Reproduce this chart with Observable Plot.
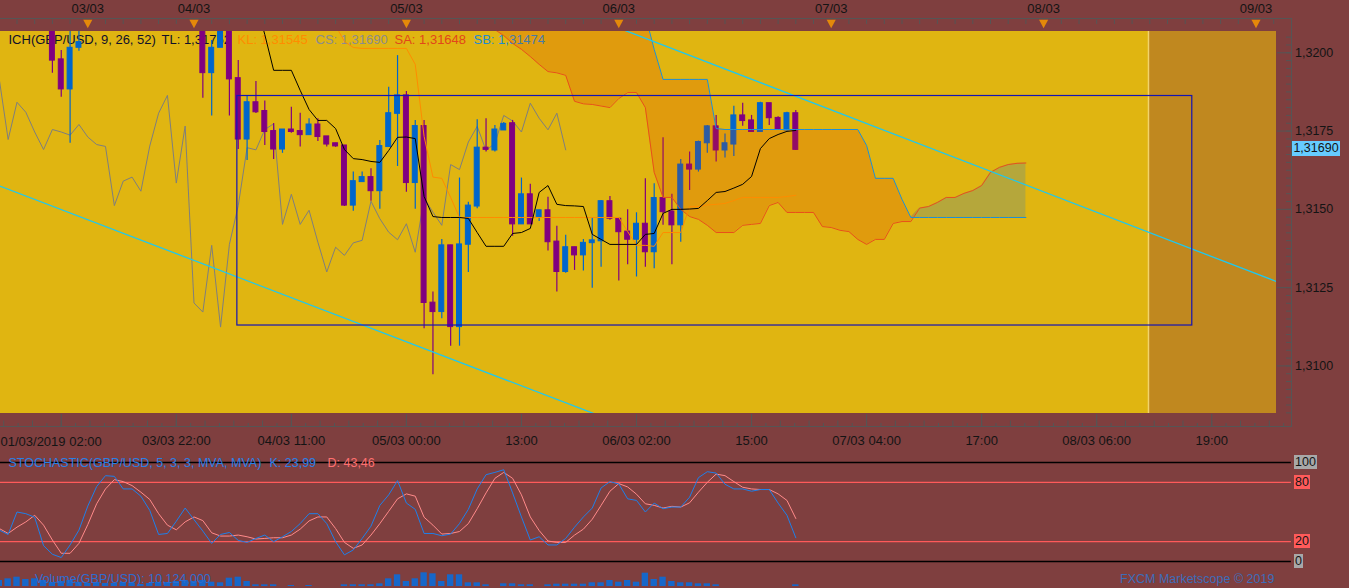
<!DOCTYPE html>
<html><head><meta charset="utf-8">
<script src="https://cdn.jsdelivr.net/npm/d3@7"></script>
<script src="https://cdn.jsdelivr.net/npm/@observablehq/plot@0.6"></script>
<style>
html,body{margin:0;padding:0;background:#7f3f3f;overflow:hidden;}
#wrap{position:relative;width:1349px;height:588px;background:#7f3f3f;font-family:"Liberation Sans",Arial,sans-serif;overflow:hidden;}
.ov{position:absolute;white-space:nowrap;}
</style></head><body><div id="wrap"></div>
<script>
// ---------- DATA (bar index n: 0 = 06/03 02:00, hourly bars) ----------
const candleN = [-66,-65,-64,-63,-49,-48,-47,-46,-45,-44,-43,-42,-41,-40,-39,-38,-37,-36,-35,-34,-33,-32,-31,-30,-29,-28,-27,-26,-25,-24,-23,-22,-21,-20,-19,-18,-17,-16,-15,-14,-13,-12,-11,-10,-9,-8,-7,-6,-5,-4,-3,-2,-1,0,1,2,3,4,5,6,7,8,9,10,11,12,13,14,15,16,17,18];
const openP = [1.32087,1.31979,1.31883,1.32016,1.32087,1.31935,1.32016,1.32078,1.31919,1.31723,1.31842,1.31814,1.31750,1.31691,1.31755,1.31750,1.31737,1.31771,1.31733,1.31711,1.31704,1.31512,1.31587,1.31603,1.31558,1.31699,1.31805,1.31864,1.31584,1.31766,1.31202,1.31172,1.31385,1.31124,1.31387,1.31509,1.31697,1.31688,1.31752,1.31775,1.31452,1.31548,1.31475,1.31497,1.31397,1.31300,1.31379,1.31353,1.31392,1.31398,1.31526,1.31470,1.31429,1.31403,1.31454,1.31363,1.31536,1.31493,1.31449,1.31643,1.31627,1.31711,1.31765,1.31688,1.31707,1.31800,1.31784,1.31747,1.31839,1.31792,1.31752,1.31807];
const highP = [1.32103,1.32007,1.32078,1.32071,1.32103,1.32039,1.32103,1.32103,1.31975,1.31861,1.31908,1.31846,1.31774,1.31755,1.31826,1.31807,1.31789,1.31789,1.31733,1.31711,1.31704,1.31619,1.31619,1.31630,1.31720,1.31890,1.31991,1.31876,1.31784,1.31784,1.31236,1.31404,1.31385,1.31600,1.31523,1.31786,1.31789,1.31768,1.31777,1.31784,1.31600,1.31580,1.31497,1.31539,1.31446,1.31417,1.31379,1.31404,1.31472,1.31528,1.31541,1.31470,1.31499,1.31489,1.31598,1.31582,1.31729,1.31548,1.31659,1.31683,1.31718,1.31768,1.31800,1.31741,1.31829,1.31839,1.31800,1.31842,1.31839,1.31796,1.31810,1.31816];
const lowP = [1.31935,1.31858,1.31711,1.32005,1.31855,1.31798,1.32016,1.31798,1.31691,1.31656,1.31806,1.31704,1.31659,1.31679,1.31743,1.31699,1.31737,1.31717,1.31699,1.31698,1.31509,1.31494,1.31587,1.31526,1.31500,1.31699,1.31637,1.31555,1.31500,1.31119,1.30972,1.31151,1.31063,1.31063,1.31298,1.31502,1.31683,1.31683,1.31752,1.31414,1.31452,1.31452,1.31461,1.31367,1.31236,1.31296,1.31305,1.31303,1.31248,1.31315,1.31465,1.31271,1.31323,1.31284,1.31315,1.31310,1.31449,1.31323,1.31395,1.31560,1.31619,1.31679,1.31651,1.31664,1.31669,1.31765,1.31747,1.31747,1.31768,1.31754,1.31750,1.31688];
const closeP = [1.31975,1.31883,1.32016,1.32034,1.31935,1.32016,1.32078,1.31915,1.31723,1.31842,1.31810,1.31747,1.31691,1.31755,1.31747,1.31737,1.31771,1.31731,1.31707,1.31701,1.31512,1.31590,1.31603,1.31558,1.31702,1.31807,1.31864,1.31584,1.31766,1.31201,1.31172,1.31385,1.31124,1.31388,1.31512,1.31697,1.31690,1.31755,1.31773,1.31452,1.31548,1.31452,1.31497,1.31395,1.31300,1.31379,1.31353,1.31393,1.31401,1.31526,1.31470,1.31427,1.31403,1.31454,1.31363,1.31536,1.31491,1.31449,1.31643,1.31627,1.31715,1.31765,1.31688,1.31711,1.31800,1.31782,1.31747,1.31839,1.31791,1.31754,1.31807,1.31690];

const tenkanStart = -43;
const tenkan = [1.32165,1.32058,1.31944,1.31944,1.31944,1.31880,1.31819,1.31784,1.31784,1.31758,1.31691,1.31662,1.31659,1.31653,1.31650,1.31688,1.31730,1.31731,1.31726,1.31541,1.31477,1.31474,1.31474,1.31474,1.31471,1.31426,1.31382,1.31382,1.31382,1.31423,1.31426,1.31439,1.31554,1.31576,1.31516,1.31512,1.31511,1.31509,1.31420,1.31404,1.31388,1.31388,1.31388,1.31388,1.31420,1.31423,1.31487,1.31500,1.31500,1.31501,1.31503,1.31528,1.31554,1.31557,1.31568,1.31580,1.31605,1.31694,1.31726,1.31739,1.31749,1.31752];
const kijunStart = -35;
const kijun = [1.32135,1.32087,1.32036,1.32017,1.32014,1.32014,1.32014,1.32014,1.32014,1.32014,1.31963,1.31733,1.31603,1.31599,1.31538,1.31474,1.31474,1.31474,1.31474,1.31474,1.31474,1.31474,1.31474,1.31474,1.31474,1.31474,1.31474,1.31474,1.31474,1.31474,1.31474,1.31474,1.31474,1.31474,1.31429,1.31385,1.31385,1.31382,1.31426,1.31426,1.31426,1.31509,1.31509,1.31514,1.31516,1.31519,1.31528,1.31538,1.31538,1.31538,1.31538,1.31538,1.31541,1.31545];
const senkouStart = -17;
const senkouA = [1.32103,1.32074,1.32055,1.32030,1.32011,1.31988,1.31963,1.31940,1.31936,1.31928,1.31845,1.31837,1.31835,1.31830,1.31825,1.31854,1.31873,1.31873,1.31825,1.31618,1.31538,1.31538,1.31500,1.31477,1.31468,1.31449,1.31426,1.31426,1.31426,1.31449,1.31452,1.31455,1.31512,1.31522,1.31490,1.31490,1.31490,1.31490,1.31445,1.31442,1.31433,1.31429,1.31404,1.31388,1.31404,1.31404,1.31455,1.31461,1.31461,1.31504,1.31509,1.31522,1.31538,1.31538,1.31551,1.31560,1.31576,1.31618,1.31634,1.31643,1.31647,1.31648];
const senkouB = [1.32135,1.32135,1.32135,1.32135,1.32135,1.32135,1.32135,1.32135,1.32135,1.32135,1.32135,1.32135,1.32135,1.32135,1.32135,1.32135,1.32135,1.32135,1.32119,1.32011,1.31915,1.31915,1.31915,1.31915,1.31915,1.31915,1.31758,1.31755,1.31755,1.31755,1.31755,1.31755,1.31755,1.31755,1.31755,1.31755,1.31755,1.31755,1.31755,1.31755,1.31755,1.31755,1.31755,1.31704,1.31599,1.31599,1.31599,1.31532,1.31474,1.31474,1.31474,1.31474,1.31474,1.31474,1.31474,1.31474,1.31474,1.31474,1.31474,1.31474,1.31474,1.31474];
const chikouShift = 26;

const stochStart = -72;
const stochK = [31.7,27.3,50,48.3,44.7,16,7.3,4,16.7,31.7,56,75.7,86.7,86,73.3,73.3,66,51.7,27.3,28.3,40.7,54,42.3,30.7,18.3,27.3,29.3,21.3,19.3,23.3,26.7,20,25,30.3,38.3,48.3,48.3,38.3,20,6.7,11.7,23.3,35.7,56.7,67.3,81.7,59,52.7,28.3,28.3,26,27.7,38.3,52.7,73.3,87.7,90,92.7,69.3,45,21.7,25,16.7,16.7,23.3,34.7,45,54,74.3,80.7,78.3,63.3,61.7,50,59,53.3,55,55,65,84.7,90.7,89.3,78,73.3,73.3,71,72.7,72.7,59,46.7,23.99];
const stochD = [33.3,28.3,34.7,40,46.7,36.7,21.7,8.3,8.3,18.3,37.3,58.3,73.3,82.7,80.7,76.7,70,62.7,48.3,36.7,32,40,45,41.3,29,25.7,25.7,26.7,25,22.7,23.3,24,24,26.7,32.7,41,45,45,33.3,19.3,13.3,16.7,26.7,38.3,50.7,63.3,68.3,66,44.7,36.7,27.7,28.3,30.3,38.3,53.3,69.3,84,90,84,67.3,45,31.3,20.7,19.3,19.3,26.7,32.7,42.7,56.7,71,78.7,75.3,68,58.3,56.7,54,55.7,55,59.3,70,80,88.3,86.7,80.7,75,73.3,72.7,72.7,68.3,61.7,43.46];
const volumeM = [6,7.7,9.3,7,7.7,6,4,5,6,4,3,4,3,3,4,3,2,3,4,4,5,6,5,6,4.3,3.7,8.3,9.3,5,1.7,1.7,1.7,0,1,0,1,0,0,0,1.7,1.7,1.7,1.7,2.7,7.7,11.7,5,7.7,13.7,12.7,5,11.7,11.7,3.7,3.7,1.7,0,2.7,2.7,1.7,1.7,0,1.7,2.3,2.3,2.3,2.3,3.7,3.7,6,4.3,6,4.3,13.3,7,9.3,5,3.7,3.7,2.7,2.7,1.7,0,0,0,0,0,0,0,0,1.7];

const timeTickN = [-65,-52,-39,-26,-13,0,13,26,39,52,65];
const timeTickLabels = ["01/03/2019 02:00","03/03 22:00","04/03 11:00","05/03 00:00","13:00","06/03 02:00","15:00","07/03 04:00","17:00","08/03 06:00","19:00"];
const dayMarkN = [-62,-50,-26,-2,22,46,70];
const dayMarkLabels = ["03/03","04/03","05/03","06/03","07/03","08/03","09/03"];
const priceTicks = [1.3100,1.3125,1.3150,1.3175,1.3200];
const stochLevels = [0,20,80,100];

const trendStartN = [-72,-2], trendStartP = [1.31575,1.32079];
const trendEndN = [-4,73], trendEndP = [1.30839,1.31262];
const boxN = [-45.1,62.8], boxP = [1.31129,1.31862];
const shadeN = [57.85,72.4];

// ---------- derived tables ----------
const candles = candleN.map((n,i)=>({n, open:openP[i], high:highP[i], low:lowP[i], close:closeP[i]}));
const candleColor = d => d.close >= d.open ? "#0066cc" : "#800080";
const chikou = candles.filter(d => d.n >= -49).map(d => ({n: d.n - chikouShift, v: d.close}));
const series = (arr, start) => arr.map((v,i)=>({n:start+i, v}));
const tenkanS = series(tenkan, tenkanStart);
const kijunS = series(kijun, kijunStart);
const cloud = senkouA.map((a,i)=>({n: senkouStart+i, sa:a, sb:senkouB[i]}));
const kS = series(stochK, stochStart), dS = series(stochD, stochStart), volS = series(volumeM, stochStart);
const trends = trendStartN.map((n,i)=>({n1:n, p1:trendStartP[i], n2:trendEndN[i], p2:trendEndP[i]}));
const box = {x1:boxN[0], x2:boxN[1], y1:boxP[0], y2:boxP[1]};
const shade = {start: shadeN[0], end: shadeN[1]};
const timeLabel = new Map(timeTickN.map((n,i)=>[n, timeTickLabels[i]]));
const dayMarks = dayMarkN.map((n,i)=>({n, label: dayMarkLabels[i]}));
const last = a => a[a.length-1];

const f5 = v => v.toFixed(5).replace(".", ",");
const f4 = v => v.toFixed(4).replace(".", ",");
const f2 = v => v.toFixed(2).replace(".", ",");

const xDomain = [-71.864, 72.316];
const axisEdgeN = 74.0;
const FONT = '"Liberation Sans", Arial, sans-serif';
const topTicks = d3.range(-72, 73, 2);
const minorBottomA = d3.range(-78, 73, 13/4).map(v => v + 13/8);
const minorBottomB = d3.range(-78, 73, 13/4);
const minorPrice = d3.range(0, 49).map(i => 1.3085 + i*0.00025);

const downTri = {draw(ctx, size){const r=Math.sqrt(size/Math.PI);ctx.moveTo(-1.3*r,-1.2*r);ctx.lineTo(1.3*r,-1.2*r);ctx.lineTo(0,1.2*r);ctx.closePath();}};

function seg(text, dx, dy, fill, fs){
  return Plot.text([text], {text:d=>d, frameAnchor:"top-left", textAnchor:"start", lineAnchor:"middle", dx, dy, fill, fontSize:fs});
}

const main = Plot.plot({
  width:1349, height:455, marginLeft:0, marginRight:73, marginTop:31, marginBottom:42,
  x:{type:"linear", domain:xDomain, label:null},
  y:{type:"linear", domain:[1.30848,1.32068], label:null},
  style:{background:"transparent", fontFamily:FONT, fontSize:"13px", color:"#141414", overflow:"visible"},
  marks:[
    Plot.rect([0], {fill:"#e0b511"}),
    Plot.rect([shade], {x1:"start", x2:"end", fill:"#c0881f", clip:true}),
    Plot.ruleX([shade.start], {stroke:"#f2d36b", strokeWidth:1.5}),
    seg("ICH(GBP/USD, 9, 26, 52)", 8, 8, "#10102a", 13),
    seg("TL: " + f5(last(tenkan)), 161, 8, "#10102a", 13),
    seg("KL: " + f5(last(kijun)), 237, 8, "#ff8c00", 13),
    seg("CS: " + f5(last(closeP)), 315, 8, "#8c8c8c", 13),
    seg("SA: " + f5(last(senkouA)), 394, 8, "#e2461a", 13),
    seg("SB: " + f5(last(senkouB)), 473, 8, "#1e8cd2", 13),
    Plot.line(chikou, {x:"n", y:"v", stroke:"#7e7e7e", strokeWidth:1, clip:true}),
    Plot.ruleX(candles, {x:"n", y1:"low", y2:"high", stroke:candleColor, strokeWidth:1.2, clip:true}),
    Plot.rect(candles, {x1:d=>d.n-0.28, x2:d=>d.n+0.28, y1:"open", y2:"close", fill:candleColor, stroke:candleColor, strokeWidth:1, clip:true}),
    Plot.areaY(cloud, {x:"n", y1:"sa", y2:d=>Math.max(d.sa,d.sb), fill:"rgb(224,56,0)", fillOpacity:0.2, clip:true}),
    Plot.areaY(cloud, {x:"n", y1:"sb", y2:d=>Math.max(d.sa,d.sb), fill:"rgb(128,150,110)", fillOpacity:0.45, clip:true}),
    Plot.line(cloud, {x:"n", y:"sa", stroke:"#e8501a", strokeWidth:1, clip:true}),
    Plot.line(cloud, {x:"n", y:"sb", stroke:"#1e8fd6", strokeWidth:1, clip:true}),
    Plot.line(kijunS, {x:"n", y:"v", stroke:"#ff8c00", strokeWidth:1, clip:true}),
    Plot.line(tenkanS, {x:"n", y:"v", stroke:"#000000", strokeWidth:1, clip:true}),
    Plot.link(trends, {x1:"n1", y1:"p1", x2:"n2", y2:"p2", stroke:"#1ec8f0", strokeWidth:1.3, clip:true}),
    Plot.rect([box], {x1:"x1", x2:"x2", y1:"y1", y2:"y2", fill:"none", stroke:"#1414b4", strokeWidth:1.2}),
    Plot.axisX({anchor:"top", ticks:topTicks, tickSize:4.5, dy:-8, tickFormat:()=>"", stroke:"#555", label:null}),
    Plot.text(dayMarks, {x:"n", text:"label", frameAnchor:"top", dy:-22.5, lineAnchor:"middle", fill:"#141414", fontSize:13}),
    Plot.dot(dayMarks, {x:"n", frameAnchor:"top", dy:-7.5, r:3.5, symbol:downTri, fill:"#e4890a", stroke:"none"}),
    Plot.axisX({anchor:"bottom", ticks:timeTickN, tickFormat:n=>(n===timeTickN[0] ? "" : timeLabel.get(n)), tickSize:12.5, dy:1, tickPadding:9, stroke:"#555", fill:"#141414", fontSize:13, label:null}),
    Plot.text([timeTickLabels[0]], {text:d=>d, frameAnchor:"bottom-left", textAnchor:"start", lineAnchor:"middle", dx:0, dy:28, fill:"#141414", fontSize:13}),
    Plot.axisX({anchor:"bottom", ticks:minorBottomA, tickSize:3.5, dy:10, tickFormat:()=>"", stroke:"#555", label:null}),
    Plot.axisX({anchor:"bottom", ticks:minorBottomB, tickSize:6, dy:7.5, tickFormat:()=>"", stroke:"#555", label:null}),
    Plot.axisY({anchor:"right", ticks:priceTicks, tickSize:15, tickPadding:3.5, tickFormat:f4, stroke:"#555", fill:"#141414", fontSize:12.5, label:null}),
    Plot.axisY({anchor:"right", ticks:minorPrice, tickSize:6, dx:9, tickFormat:()=>"", stroke:"#555", label:null})
  ]
});

const stoch = Plot.plot({
  width:1349, height:112, marginLeft:0, marginRight:73, marginTop:10, marginBottom:3,
  x:{type:"linear", domain:xDomain, axis:null, label:null},
  y:{domain:[0,100], axis:null, label:null},
  style:{background:"transparent", fontFamily:FONT, fontSize:"12.5px", overflow:"visible"},
  marks:[
    Plot.ruleY([0,100], {x1:xDomain[0], x2:axisEdgeN, stroke:"#000", strokeWidth:1.4}),
    Plot.ruleY([20,80], {x1:xDomain[0], x2:axisEdgeN, stroke:"#ff5a5a", strokeWidth:1.3}),
    Plot.line(dS, {x:"n", y:"v", stroke:"#ff8a8a", strokeWidth:1, clip:true}),
    Plot.line(kS, {x:"n", y:"v", stroke:"#1e80ea", strokeWidth:1, clip:true}),
    seg("STOCHASTIC(GBP/USD, 5, 3, 3, MVA, MVA)", 8, 0, "#2a7fe6", 12.5),
    seg("K: " + f2(last(stochK)), 269, 0, "#2a7fe6", 12.5),
    seg("D: " + f2(last(stochD)), 327, 0, "#ff7070", 12.5)
  ]
});

const vol = Plot.plot({
  width:1349, height:26, marginLeft:0, marginRight:73, marginTop:0, marginBottom:2,
  x:{type:"linear", domain:xDomain, axis:null, label:null},
  y:{domain:[0,24], axis:null, label:null},
  style:{background:"transparent", overflow:"visible"},
  marks:[
    Plot.rect(volS, {x1:d=>d.n-0.36, x2:d=>d.n+0.36, y1:0, y2:"v", fill:"#1767c9", clip:true})
  ]
});

const wrap = document.getElementById("wrap");
function place(node, top){ node.style.position="absolute"; node.style.left="0px"; node.style.top=top+"px"; wrap.appendChild(node); }
place(main, 0); place(stoch, 452); place(vol, 562);

function ov(text, css){ const d=document.createElement("div"); d.className="ov"; d.textContent=text; Object.assign(d.style, css); wrap.appendChild(d); return d; }
// chart chrome: axis frame lines
ov("", {left:"0px", top:"18px", width:"1292px", height:"1px", background:"#555"});
ov("", {left:"1291px", top:"18px", width:"1px", height:"409px", background:"#555"});
ov("", {left:"0px", top:"426px", width:"1292px", height:"1px", background:"#555"});

const yMain = main.scale("y");
const py = yMain.apply(last(closeP));
ov(f5(last(closeP)), {left:"1292px", top:(py-8)+"px", width:"48px", height:"15px", lineHeight:"15px", background:"#66ccff", color:"#141414", fontSize:"12.5px", textAlign:"center"});

const yS = stoch.scale("y");
const levelBg = {0:"#a8a8a8", 20:"#ff5a5a", 80:"#ff5a5a", 100:"#a8a8a8"};
stochLevels.forEach(v => {
  const yy = 452 + yS.apply(v);
  ov(String(v), {left:"1294px", top:(yy-7)+"px", height:"14px", lineHeight:"14px", padding:"0 1px", background:levelBg[v], color:"#141414", fontSize:"12.5px"});
});

ov("Volume(GBP/USD): 10,124,000", {left:"35px", top:"572px", fontSize:"12.5px", lineHeight:"14px", color:"#2e6cd0"});
ov("FXCM Marketscope © 2019", {left:"1120px", top:"572px", fontSize:"12.5px", lineHeight:"14px", color:"#3d6cb9"});
</script></body></html>
